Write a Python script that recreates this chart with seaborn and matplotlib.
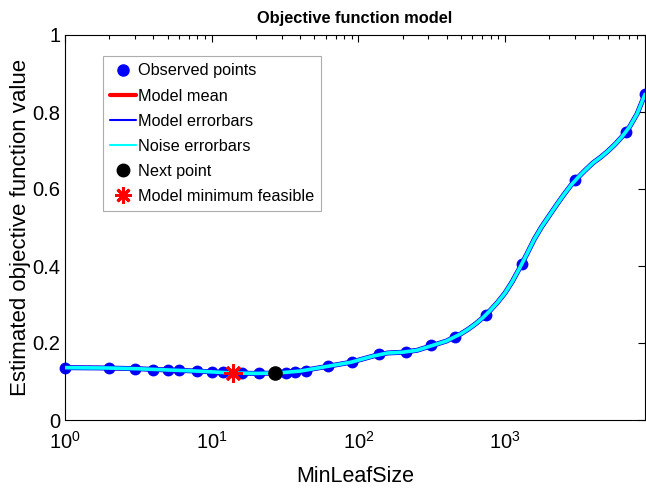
"""Objective function model (bayesopt style) for MinLeafSize"""

import matplotlib

matplotlib.use("Agg")
import matplotlib.pyplot as plt
from matplotlib.lines import Line2D
import seaborn as sns

# %% Data

# observed points
obs_x = [1, 2, 3, 4, 5, 6, 8, 10, 12, 16, 21, 32, 37, 44, 62, 90, 138, 211, 312,
         456, 741, 1297, 3000, 6670, 9000]
obs_y = [0.136, 0.134, 0.132, 0.131, 0.130, 0.129, 0.127, 0.125, 0.124, 0.123,
         0.123, 0.122, 0.124, 0.128, 0.141, 0.150, 0.172, 0.176, 0.194, 0.216,
         0.272, 0.406, 0.624, 0.749, 0.846]

# model mean curve
curve_x = [1, 2, 3.2, 5, 8, 10, 14, 20, 28, 40, 63, 89, 126, 158, 200, 251, 316,
           398, 501, 562, 631, 708, 794, 891, 1000, 1122, 1259, 1413, 1585, 1778,
           1995, 2239, 2512, 2818, 3162, 3548, 3981, 4467, 5012, 5623, 6310, 7079,
           7943, 9000]
curve_y = [0.136, 0.135, 0.133, 0.130, 0.127, 0.125, 0.122, 0.121, 0.122, 0.127,
           0.140, 0.150, 0.166, 0.174, 0.176, 0.181, 0.193, 0.205, 0.224, 0.236,
           0.250, 0.266, 0.285, 0.306, 0.330, 0.360, 0.395, 0.432, 0.470, 0.502,
           0.530, 0.558, 0.585, 0.610, 0.631, 0.650, 0.668, 0.682, 0.698, 0.716,
           0.737, 0.762, 0.795, 0.846]

next_x, next_y = [27], [0.122]
best_x, best_y = [14], [0.121]

legend_labels = ["Observed points", "Model mean", "Model errorbars",
                 "Noise errorbars", "Next point", "Model minimum feasible"]

# %% Plot

sns.set_style("white")
plt.rcParams["font.family"] = ["Liberation Sans", "DejaVu Sans"]
plt.rcParams["mathtext.fontset"] = "custom"
plt.rcParams["mathtext.rm"] = "Liberation Sans"
plt.rcParams["mathtext.it"] = "Liberation Sans"
plt.rcParams["text.color"] = "black"
plt.rcParams["axes.labelcolor"] = "black"

fig, ax = plt.subplots(figsize=(6.46, 4.91), dpi=100)
fig.subplots_adjust(left=65 / 646, right=645 / 646, bottom=71 / 491, top=(491 - 35) / 491)

sns.lineplot(x=curve_x, y=curve_y, ax=ax, color="red", linewidth=3, zorder=2)
sns.lineplot(x=curve_x, y=curve_y, ax=ax, color="blue", linewidth=3.6, zorder=3)
sns.lineplot(x=curve_x, y=curve_y, ax=ax, color="cyan", linewidth=2.6, zorder=4)
ax.plot(obs_x, obs_y, "o", color="blue", markersize=7.5, zorder=1, clip_on=False)
ax.plot(next_x, next_y, "o", color="black", markersize=9.5, zorder=5)
ax.plot(best_x, best_y, marker=(8, 2, 0), color="red", markersize=13,
        markeredgewidth=2, linestyle="none", zorder=6)

ax.set_xscale("log")
ax.set(xlim=(1, 9000), ylim=(0, 1))
ax.set_yticks([0, 0.2, 0.4, 0.6, 0.8, 1])
ax.set_yticklabels(["0", "0.2", "0.4", "0.6", "0.8", "1"])
ax.tick_params(which="both", direction="in", top=True, right=True, labelsize=14.5,
               colors="black")
ax.tick_params(which="major", length=5, width=0.8)
ax.tick_params(which="minor", length=3, width=0.8)
ax.tick_params(axis="x", pad=8)
for s in ax.spines.values():
    s.set_visible(True)
    s.set_color("black")
    s.set_linewidth(0.8)

ax.set_title("Objective function model", fontsize=11.8, fontweight="bold", pad=9)
ax.set_xlabel("MinLeafSize", fontsize=15.5, labelpad=9)
ax.set_ylabel("Estimated objective function value", fontsize=16, labelpad=1)

handles = [
    Line2D([], [], marker="o", color="blue", linestyle="none", markersize=8),
    Line2D([], [], color="red", linewidth=3),
    Line2D([], [], color="blue", linewidth=1.5),
    Line2D([], [], color="cyan", linewidth=1.5),
    Line2D([], [], marker="o", color="black", linestyle="none", markersize=9),
    Line2D([], [], marker=(8, 2, 0), color="red", linestyle="none", markersize=12,
           markeredgewidth=2),
]
leg = ax.legend(handles, legend_labels, loc="upper left", bbox_to_anchor=(0.065, 0.945),
                fontsize=11.7, frameon=True, fancybox=False, handlelength=1.6,
                handletextpad=0.1, labelspacing=0.62, borderpad=0.45,
                borderaxespad=0)
leg.get_frame().set_edgecolor("#999999")
leg.get_frame().set_linewidth(0.8)

fig.savefig("out.png", dpi=100)
